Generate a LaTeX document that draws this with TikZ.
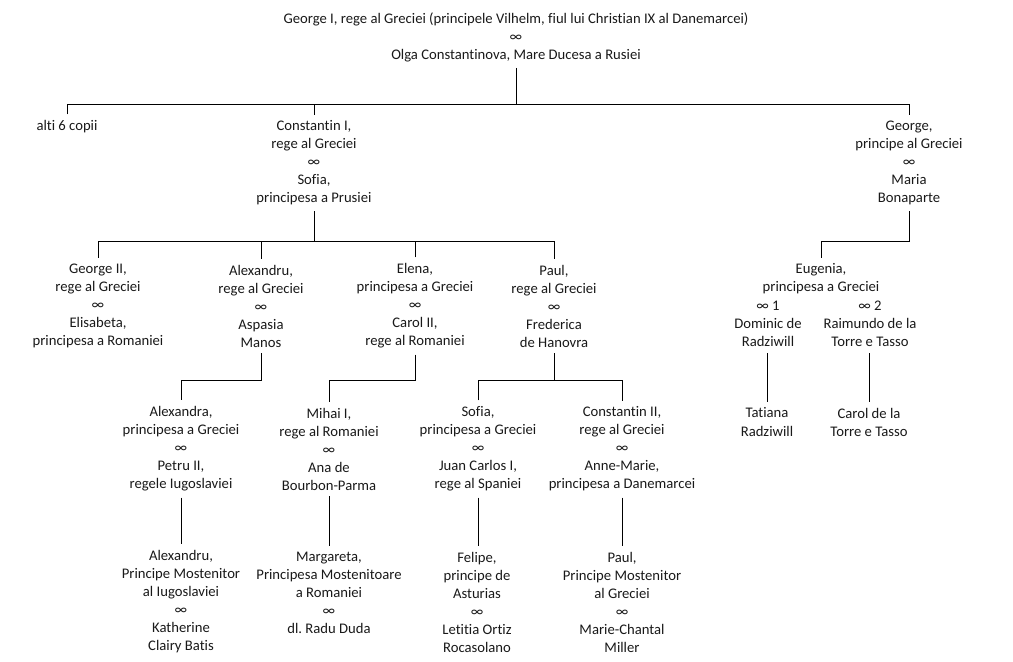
\documentclass[tikz,border=0pt]{standalone}
\usepackage{fontspec}
\setmainfont{Carlito}[Ligatures={NoCommon}]
\frenchspacing
\begin{document}
\tikzset{
  p/.style={align=center, inner xsep=0pt, inner ysep=4.5pt, font=\fontsize{11}{13.5}\selectfont, text=black!90},
  c/.style={line width=0.65pt, black}
}
\begin{tikzpicture}[x=0.75pt,y=-0.75pt]
\useasboundingbox (0,0) rectangle (1013,661);
\coordinate (b1) at (0,104);
\coordinate (b2) at (0,241);
\coordinate (b3) at (0,380);
% generation 0
\node[p] (top) at (516,37) {George I, rege al Greciei (principele Vilhelm, fiul lui Christian IX al Danemarcei)\\∞\\Olga Constantinova, Mare Ducesa a Rusiei};
% generation 1
\node[p] (alti) at (67,127) {alti 6 copii};
\node[p] (c1) at (314,163) {Constantin I,\\rege al Greciei\\∞\\Sofia,\\principesa a Prusiei};
\node[p] (gp) at (909,163) {George,\\principe al Greciei\\∞\\Maria\\Bonaparte};
% generation 2
\node[p] (g2) at (98,306) {George II,\\rege al Greciei\\∞\\Elisabeta,\\principesa a Romaniei};
\node[p] (alx) at (261,306) {Alexandru,\\rege al Greciei\\∞\\Aspasia\\Manos};
\node[p] (ele) at (415,306) {Elena,\\principesa a Greciei\\∞\\Carol II,\\rege al Romaniei};
\node[p] (pau) at (554,306) {Paul,\\rege al Greciei\\∞\\Frederica\\de Hanovra};
\node[p] (eug) at (821,279) {Eugenia,\\principesa a Greciei};
\node[p] (dom) at (768,324) {∞ 1\\Dominic de\\Radziwill};
\node[p] (rai) at (870,324) {∞ 2\\Raimundo de la\\Torre e Tasso};
% generation 3
\node[p] (axa) at (181,449) {Alexandra,\\principesa a Greciei\\∞\\Petru II,\\regele Iugoslaviei};
\node[p] (mih) at (329,449) {Mihai I,\\rege al Romaniei\\∞\\Ana de\\Bourbon-Parma};
\node[p] (sof) at (478,449) {Sofia,\\principesa a Greciei\\∞\\Juan Carlos I,\\rege al Spaniei};
\node[p] (co2) at (622,449) {Constantin II,\\rege al Greciei\\∞\\Anne-Marie,\\principesa a Danemarcei};
\node[p] (tat) at (767,422) {Tatiana\\Radziwill};
\node[p] (car) at (869,422) {Carol de la\\Torre e Tasso};
% generation 4
\node[p] (axd) at (181,602) {Alexandru,\\Principe Mostenitor\\al Iugoslaviei\\∞\\Katherine\\Clairy Batis};
\node[p] (mar) at (329,593) {Margareta,\\Principesa Mostenitoare\\a Romaniei\\∞\\dl. Radu Duda};
\node[p] (fel) at (477,602) {Felipe,\\principe de\\Asturias\\∞\\Letitia Ortiz\\Rocasolano};
\node[p] (pa2) at (622,602) {Paul,\\Principe Mostenitor\\al Greciei\\∞\\Marie-Chantal\\Miller};
% connectors
\draw[c] (top.south) -- (top.south |- b1);
\draw[c] (alti.north) -- (alti.north |- b1) -- (gp.north |- b1) -- (gp.north);
\draw[c] (c1.north) -- (c1.north |- b1);
\draw[c] (c1.south) -- (c1.south |- b2);
\draw[c] (g2.north) -- (g2.north |- b2) -- (pau.north |- b2) -- (pau.north);
\draw[c] (alx.north) -- (alx.north |- b2);
\draw[c] (ele.north) -- (ele.north |- b2);
\draw[c] (gp.south) -- (gp.south |- b2) -- (eug.north |- b2) -- (eug.north);
\draw[c] (alx.south) -- (alx.south |- b3) -- (axa.north |- b3) -- (axa.north);
\draw[c] (ele.south) -- (ele.south |- b3) -- (mih.north |- b3) -- (mih.north);
\draw[c] (pau.south) -- (pau.south |- b3);
\draw[c] (sof.north) -- (sof.north |- b3) -- (co2.north |- b3) -- (co2.north);
\draw[c] (tat.north) -- (tat.north |- dom.south);
\draw[c] (car.north) -- (car.north |- rai.south);
\draw[c] (axa.south) -- (axa.south |- axd.north);
\draw[c] (mih.south) -- (mih.south |- mar.north);
\draw[c] (sof.south) -- (sof.south |- fel.north);
\draw[c] (co2.south) -- (co2.south |- pa2.north);
\end{tikzpicture}
\end{document}
